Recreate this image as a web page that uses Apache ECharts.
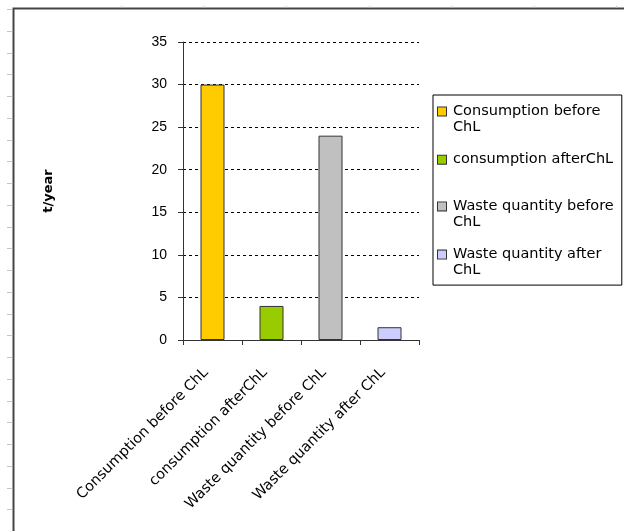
<!DOCTYPE html>
<html><head><meta charset="utf-8">
<script src="https://cdn.jsdelivr.net/npm/echarts@6/dist/echarts.min.js"></script>
<style>html,body{margin:0;padding:0;background:#fff}#c{width:624px;height:531px}</style>
</head><body><div id="c"></div>
<script>
// ---- data ----
const categories = ['Consumption before ChL', 'consumption afterChL', 'Waste quantity before ChL', 'Waste quantity after ChL'];
const values = [30, 4, 24, 1.5];
const colors = ['#FFCC00', '#99CC00', '#C0C0C0', '#CCCCFF'];
const legendLines = [['Consumption before', 'ChL'], ['consumption afterChL', ''], ['Waste quantity before', 'ChL'], ['Waste quantity after', 'ChL']];
const yMin = 0, yMax = 35, yInterval = 5;
const yAxisName = 't/year';

// ---- decoration (spreadsheet frame) ----
const deco = [];
deco.push({type: 'rect', shape: {x: 13.5, y: 8.5, width: 700, height: 600}, style: {fill: 'none', stroke: '#444', lineWidth: 2}, z: 0, silent: true});
for (let y = 9; y < 531; y += 21.75) {
  deco.push({type: 'line', shape: {x1: 7, y1: Math.round(y) + 0.5, x2: 12.5, y2: Math.round(y) + 0.5}, style: {stroke: '#c4c4c4', lineWidth: 1}, silent: true});
}
for (let x = 121; x < 624; x += 82.5) {
  deco.push({type: 'line', shape: {x1: Math.round(x) + 0.5, y1: 6, x2: Math.round(x) + 0.5, y2: 8}, style: {stroke: '#c4c4c4', lineWidth: 1}, silent: true});
}

const rich = {
  g: {width: 7, lineHeight: 16},
  sp: {width: 15, lineHeight: 16},
  t: {fontFamily: 'DejaVu Sans', fontSize: 14.5, color: '#000', lineHeight: 16}
};
colors.forEach((c, i) => {
  rich['i' + i] = {width: 8, height: 8, backgroundColor: c, borderColor: '#333', borderWidth: 1, lineHeight: 16};
});

const chart = echarts.init(document.getElementById('c'), null, {renderer: 'canvas'});
chart.setOption({
  animation: false,
  backgroundColor: '#fff',
  textStyle: {fontFamily: 'DejaVu Sans'},
  graphic: deco,
  grid: {left: 183, right: 205, top: 42, bottom: 191, containLabel: false, outerBoundsMode: 'none'},
  legend: {
    show: true, orient: 'vertical', left: 433, top: 95,
    icon: 'none', itemWidth: 0, itemHeight: 0, itemGap: 17.2,
    padding: [9, 8, 7, 0],
    borderColor: '#000', borderWidth: 1, backgroundColor: '#fff',
    selectedMode: false, align: 'left',
    data: categories,
    formatter: name => {
      const i = categories.indexOf(name);
      const L = legendLines[i];
      return '{i' + i + '|}{g|}{t|' + L[0] + '}\n{sp|}' + (L[1] ? '{t|' + L[1] + '}' : '');
    },
    textStyle: {rich: rich, color: '#000'}
  },
  xAxis: {
    type: 'category', data: categories,
    axisLine: {show: true, lineStyle: {color: '#333', width: 1}},
    axisTick: {show: true, length: 5, lineStyle: {color: '#333'}},
    axisLabel: {rotate: 45, interval: 0, margin: 24, padding: [0, 9, 0, 0], fontFamily: 'DejaVu Sans', fontSize: 14.5, color: '#000'},
    splitLine: {show: false}
  },
  yAxis: {
    type: 'value', min: yMin, max: yMax, interval: yInterval,
    name: yAxisName, nameLocation: 'middle', nameGap: 128, nameRotate: 90,
    nameTextStyle: {fontFamily: 'DejaVu Sans', fontWeight: 'bold', fontSize: 13, color: '#000'},
    axisLine: {show: true, lineStyle: {color: '#333', width: 1}},
    axisTick: {show: true, length: 5, lineStyle: {color: '#333'}},
    axisLabel: {margin: 16, fontFamily: 'Liberation Sans', fontSize: 14, color: '#000'},
    splitLine: {show: true, lineStyle: {color: '#000', type: [3, 3], width: 1}}
  },
  series: categories.map((c, i) => ({
    name: c, type: 'bar', stack: 'all', barWidth: 24,
    data: values.map((v, j) => (j === i ? v : '-')),
    itemStyle: {color: colors[i], borderColor: '#333', borderWidth: 1}
  }))
});
</script></body></html>
